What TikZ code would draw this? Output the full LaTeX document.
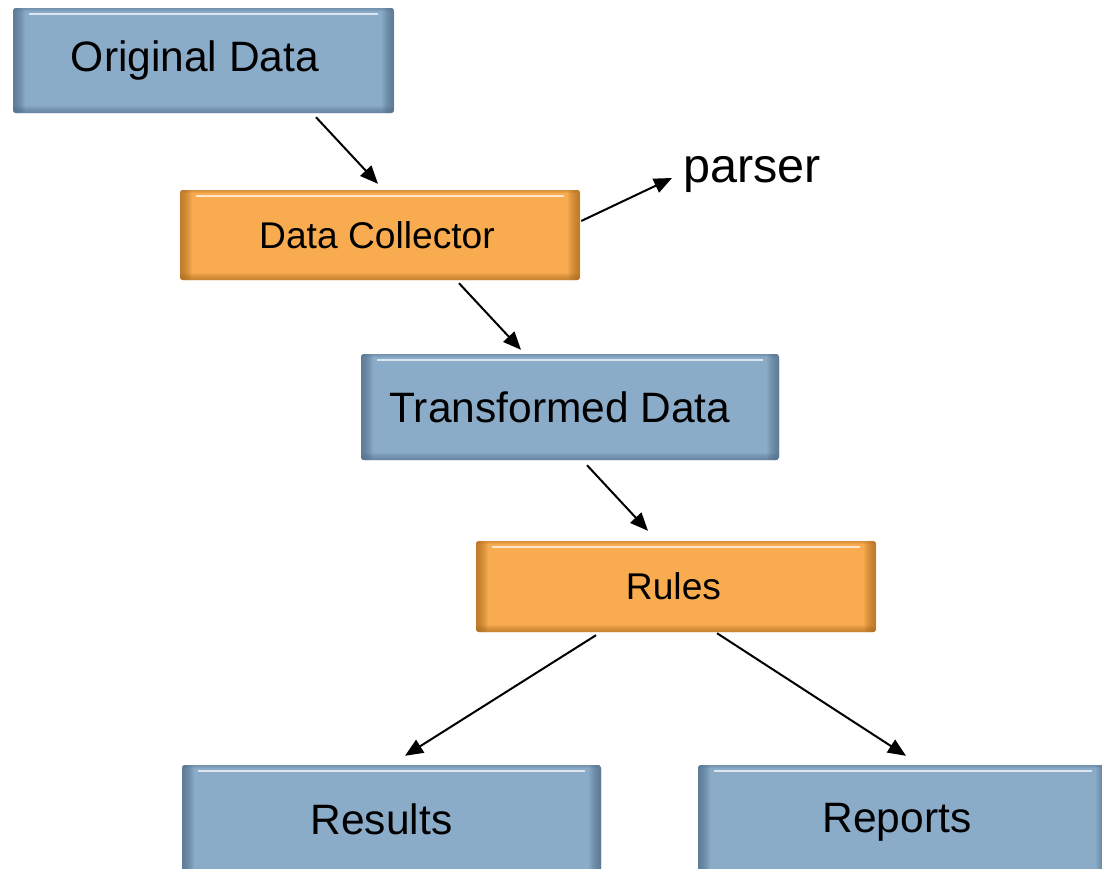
\documentclass[tikz,border=0pt]{standalone}
\usepackage{fontspec}
\setmainfont{Liberation Sans}
\usetikzlibrary{arrows.meta,calc}
\definecolor{boxblue}{HTML}{8BACC9}
\definecolor{boxblueD}{HTML}{4F6B85}
\definecolor{boxorange}{HTML}{F9AC4F}
\definecolor{boxorangeD}{HTML}{A8691F}
\tikzset{
  bevel/.style n args={2}{rectangle, rounded corners=3pt, inner sep=0pt, fill=#1,
    path picture={
      \foreach \i in {1,...,12}{
        \fill[#2, opacity=0.09] (path picture bounding box.south west) rectangle ([xshift=\i pt]path picture bounding box.north west);
        \fill[#2, opacity=0.09] ([xshift=-\i pt]path picture bounding box.south east) rectangle (path picture bounding box.north east);
      }
      \foreach \i in {1,...,7}{
        \fill[#2, opacity=0.1] (path picture bounding box.south west) rectangle ([yshift=\i pt]path picture bounding box.south east);
      }
      \foreach \i in {1,...,3}{
        \fill[#2, opacity=0.15] ([yshift=-\i pt]path picture bounding box.north west) rectangle (path picture bounding box.north east);
      }
      \draw[white, opacity=0.7, line width=2.5pt] ([xshift=16pt,yshift=-6pt]path picture bounding box.north west) -- ([xshift=-16pt,yshift=-6pt]path picture bounding box.north east);
    }},
  bluebox/.style={bevel={boxblue}{boxblueD}},
  orangebox/.style={bevel={boxorange}{boxorangeD}},
  bluetext/.style={font=\fontsize{42.5}{48}\selectfont},
  orangetext/.style={font=\fontsize{37.2}{42}\selectfont},
  conn/.style={line width=2pt, -{Triangle[length=18pt,width=15pt]}},
}
\begin{document}
\begin{tikzpicture}[x=1pt,y=-1pt]
\useasboundingbox (0,0) rectangle (1102,868);
\node[bluebox, bluetext, minimum width=381pt, minimum height=105pt] (od) at (203.5,60.5) {\hspace*{-17pt}\raisebox{-7pt}{Original Data}};
\node[orangebox, orangetext, minimum width=400pt, minimum height=90pt] (dc) at (380,235) {\hspace*{-6pt}\raisebox{-4pt}{Data Collector}};
\node[inner sep=0pt, anchor=west, font=\fontsize{48.5}{54}\selectfont] (ps) at (683,174) {parser};
\node[bluebox, bluetext, minimum width=418pt, minimum height=106pt] (td) at (570,407) {\hspace*{-20pt}\raisebox{-2pt}{Transformed Data}};
\node[orangebox, orangetext, minimum width=400pt, minimum height=91pt] (ru) at (676,586.5) {\hspace*{-5pt}\raisebox{-3pt}{Rules}};
\node[bluebox, bluetext, minimum width=419pt, minimum height=116pt] (rs) at (391.5,823) {\hspace*{-20pt}\raisebox{8pt}{Results}};
\node[bluebox, bluetext, minimum width=410pt, minimum height=116pt] (rp) at (903,823) {\hspace*{-12pt}\raisebox{11pt}{Reports}};
\draw[conn] ($(od.south)+(112.5,4)$) -- ($(dc.north)+(-2,-6)$);
\draw[conn] ($(dc.east)+(1,-14)$) -- ($(ps.west)+(-11,4)$);
\draw[conn] ($(dc.south)+(79,3)$) -- ($(td.north)+(-49,-4)$);
\draw[conn] ($(td.south)+(17,5)$) -- ($(ru.north)+(-28,-10)$);
\draw[conn] ($(ru.south)+(-80,3)$) -- ($(rs.north)+(13.5,-9)$);
\draw[conn] ($(ru.south)+(41,1)$) -- ($(rp.north)+(3,-9)$);
\end{tikzpicture}
\end{document}
